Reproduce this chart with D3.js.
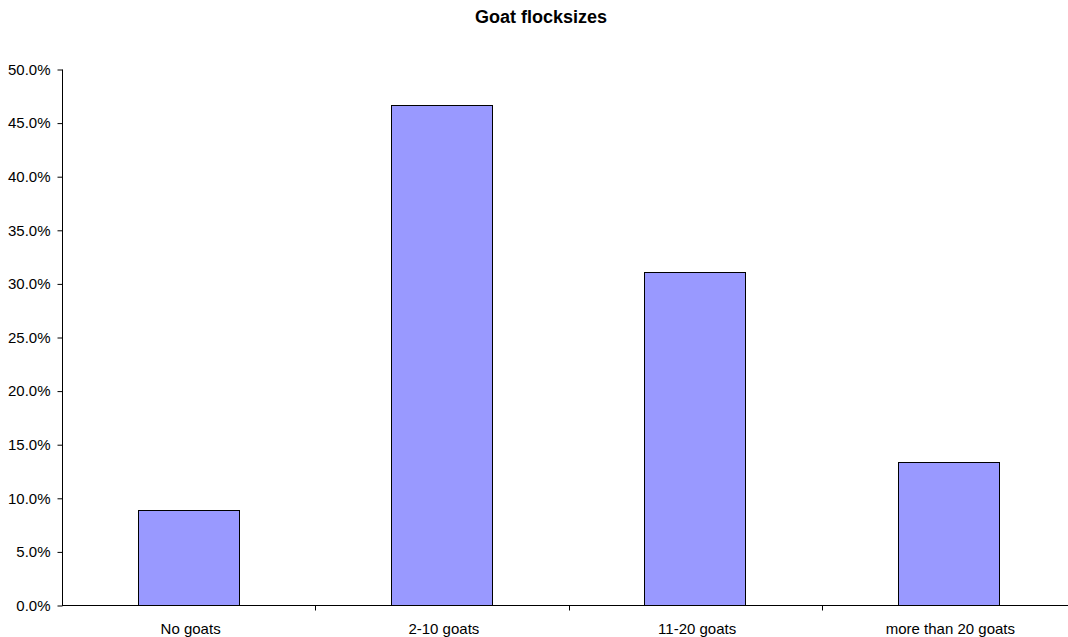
<!DOCTYPE html>
<html>
<head>
<meta charset="utf-8">
<script src="https://cdn.jsdelivr.net/npm/d3@7"></script>
<style>
  html, body { margin: 0; padding: 0; background: #fff; }
  svg { display: block; font-family: "Liberation Sans", Arial, sans-serif; }
</style>
</head>
<body>
<svg id="chart" width="1068" height="637"></svg>
<script>
// Share of households by goat flock size
const categories = ["No goats", "2-10 goats", "11-20 goats", "more than 20 goats"];
const shares = [0.0889, 0.4667, 0.3111, 0.1333];
const yTicks = [0, 0.05, 0.10, 0.15, 0.20, 0.25, 0.30, 0.35, 0.40, 0.45, 0.50];
const title = "Goat flocksizes";

const svg = d3.select("#chart");
const plot = { left: 62, right: 1075, top: 69, bottom: 605 };

const x = d3.scaleBand()
  .domain(categories)
  .range([plot.left, plot.right])
  .paddingInner(0)
  .paddingOuter(0);

const y = d3.scaleLinear()
  .domain([0, 0.5])
  .range([plot.bottom, plot.top]);

// Title
svg.append("text")
  .attr("x", 541)
  .attr("y", 23)
  .attr("text-anchor", "middle")
  .attr("font-size", 18)
  .attr("font-weight", "bold")
  .text(title);

// Bars: 40% of each category band, centred
const barW = x.bandwidth() * 0.4;
svg.append("g")
  .selectAll("rect")
  .data(categories)
  .join("rect")
  .attr("x", (d) => Math.round(x(d) + (x.bandwidth() - barW) / 2) + 0.5)
  .attr("y", (d, i) => Math.round(y(shares[i])) + 0.5)
  .attr("width", Math.round(barW))
  .attr("height", (d, i) => Math.round(y(0)) - Math.round(y(shares[i])))
  .attr("fill", "#9999FF")
  .attr("stroke", "#000")
  .attr("stroke-width", 1);

// Y axis
const yAxis = d3.axisLeft(y)
  .tickValues(yTicks)
  .tickFormat(d3.format(".1%"))
  .tickSize(5)
  .tickPadding(7);

const gy = svg.append("g")
  .attr("transform", `translate(${plot.left + 0.5},0.5)`)
  .call(yAxis);
gy.select(".domain").attr("d", `M0,${plot.top}V${plot.bottom}`).attr("stroke", "#000");
gy.selectAll(".tick line").attr("stroke", "#000");
gy.selectAll(".tick text")
  .attr("font-size", 15)
  .attr("font-family", "Liberation Sans, Arial, sans-serif")
  .attr("fill", "#000");

// X axis: ticks sit on category boundaries
const gx = svg.append("g")
  .attr("transform", `translate(0,${plot.bottom + 0.5})`);
gx.append("line")
  .attr("x1", plot.left)
  .attr("x2", plot.right)
  .attr("stroke", "#000");
gx.selectAll("line.sep")
  .data(categories.slice(1))
  .join("line")
  .attr("class", "sep")
  .attr("x1", (d) => Math.round(x(d)) + 0.5)
  .attr("x2", (d) => Math.round(x(d)) + 0.5)
  .attr("y1", 0)
  .attr("y2", 5)
  .attr("stroke", "#000");
gx.selectAll("text")
  .data(categories)
  .join("text")
  .attr("x", (d) => x(d) + x.bandwidth() / 2 + 2)
  .attr("y", 28)
  .attr("text-anchor", "middle")
  .attr("font-size", 15)
  .attr("fill", "#000")
  .text((d) => d);
</script>
</body>
</html>
